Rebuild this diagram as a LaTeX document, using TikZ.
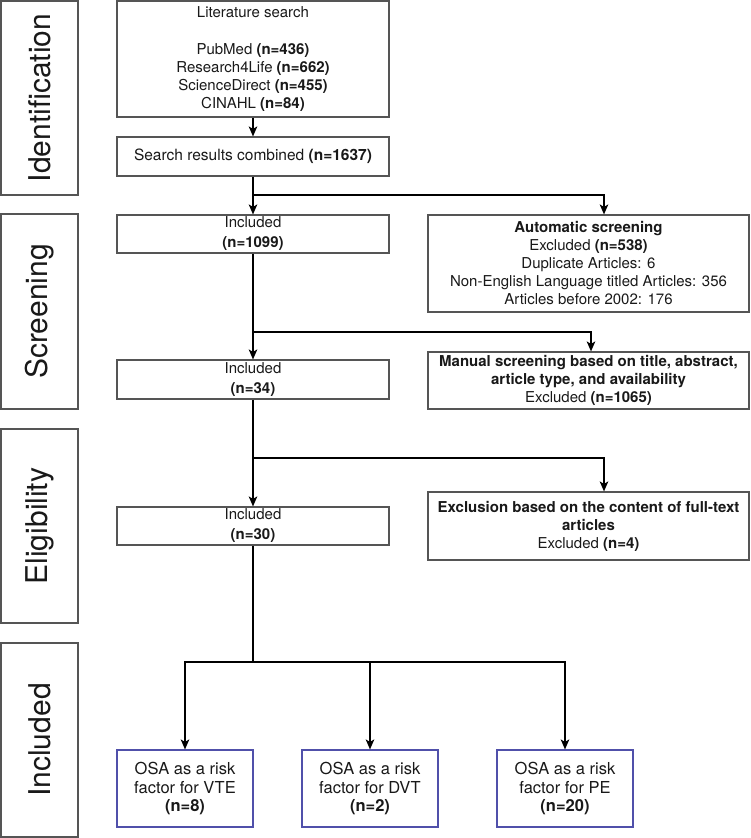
\documentclass[tikz,border=0pt]{standalone}
\usepackage{fontspec}
\setmainfont{TeX Gyre Heros}
\usetikzlibrary{arrows.meta}
\definecolor{boxgray}{RGB}{85,85,85}
\definecolor{txt}{RGB}{25,25,25}
\definecolor{bluebox}{RGB}{80,80,170}
\begin{document}
\begin{tikzpicture}[x=1pt,y=-1pt,
  box/.style={draw=boxgray, line width=1.1pt, rectangle, inner sep=0pt, align=center, text=txt, font=\fontsize{15}{18}\selectfont},
  phase/.style={draw=boxgray, line width=1.1pt, rectangle, inner sep=0pt, rotate=90, minimum width=194pt, minimum height=77pt, text=txt, font=\fontsize{30}{36}\selectfont},
  outbox/.style={box, draw=bluebox, font=\fontsize{16.5}{18.5}\selectfont},
  conn/.style={line width=1.8pt, draw=black},
  arr/.style={conn, -{Stealth[length=10pt,width=8.5pt,inset=2.5pt]}}]
\useasboundingbox (0,0) rectangle (750,838);
% phase boxes
\node[phase] (pid) at (39.5,98) {Identification};
\node[phase, minimum width=195pt] (psc) at (39.5,311.5) {Screening};
\node[phase] (pel) at (39.5,526) {Eligibility};
\node[phase] (pin) at (39.5,740) {Included};
% main column
\node[box, minimum width=272pt, minimum height=116pt] (lit) at (253,59)
  {Literature search\\[19pt]
   PubMed \textbf{(n=436)}\\
   Research4Life \textbf{(n=662)}\\
   ScienceDirect \textbf{(n=455)}\\
   CINAHL \textbf{(n=84)}};
\node[box, minimum width=272pt, minimum height=39pt, font=\fontsize{15.5}{18}\selectfont] (comb) at (253,156.5)
  {Search results combined \textbf{(n=1637)}};
\node[box, minimum width=272pt, minimum height=38pt, font=\fontsize{15}{20}\selectfont] (inc1) at (253,234)
  {Included\\\textbf{(n=1099)}};
\node[box, minimum width=272pt, minimum height=39pt, font=\fontsize{15}{20}\selectfont] (inc2) at (253,379.5)
  {Included\\\textbf{(n=34)}};
\node[box, minimum width=272pt, minimum height=38pt, font=\fontsize{15}{20}\selectfont] (inc3) at (253,526)
  {Included\\\textbf{(n=30)}};
% right column
\node[box, minimum width=321pt, minimum height=97pt] (auto) at (588.5,263.5)
  {\textbf{Automatic screening}\\
   Excluded \textbf{(n=538)}\\
   Duplicate Articles: 6\\
   Non-English Language titled Articles: 356\\
   Articles before 2002: 176};
\node[box, minimum width=321pt, minimum height=57pt] (man) at (588.5,380.5)
  {\textbf{Manual screening based on title, abstract,}\\
   \textbf{article type, and availability}\\
   Excluded \textbf{(n=1065)}};
\node[box, minimum width=321pt, minimum height=68pt] (excl) at (588.5,526)
  {\textbf{Exclusion based on the content of full-text}\\
   \textbf{articles}\\
   Excluded \textbf{(n=4)}};
% bottom boxes
\node[outbox, minimum width=136pt, minimum height=77pt] (vte) at (185,788.5)
  {OSA as a risk\\factor for VTE\\\textbf{(n=8)}};
\node[outbox, minimum width=136pt, minimum height=77pt] (dvt) at (370,788.5)
  {OSA as a risk\\factor for DVT\\\textbf{(n=2)}};
\node[outbox, minimum width=136pt, minimum height=77pt] (pe) at (565,788.5)
  {OSA as a risk\\factor for PE\\\textbf{(n=20)}};
% branch points
\coordinate (b1) at (253,195);
\coordinate (b2) at (253,332);
\coordinate (b3) at (253,458);
\coordinate (bus) at (253,662);
% connectors
\draw[arr] (lit) -- (comb);
\draw[arr] (comb) -- (inc1);
\draw[arr] (b1) -| ([xshift=15.5pt]auto.north);
\draw[arr] (inc1) -- (inc2);
\draw[arr] (b2) -| ([xshift=2.5pt]man.north);
\draw[arr] (inc2) -- (inc3);
\draw[arr] (b3) -| ([xshift=15.5pt]excl.north);
\draw[conn] (inc3) -- (bus);
\draw[arr] (bus) -| (vte.north);
\draw[arr] (bus) -| (dvt.north);
\draw[arr] (bus) -| (pe.north);
\end{tikzpicture}
\end{document}
